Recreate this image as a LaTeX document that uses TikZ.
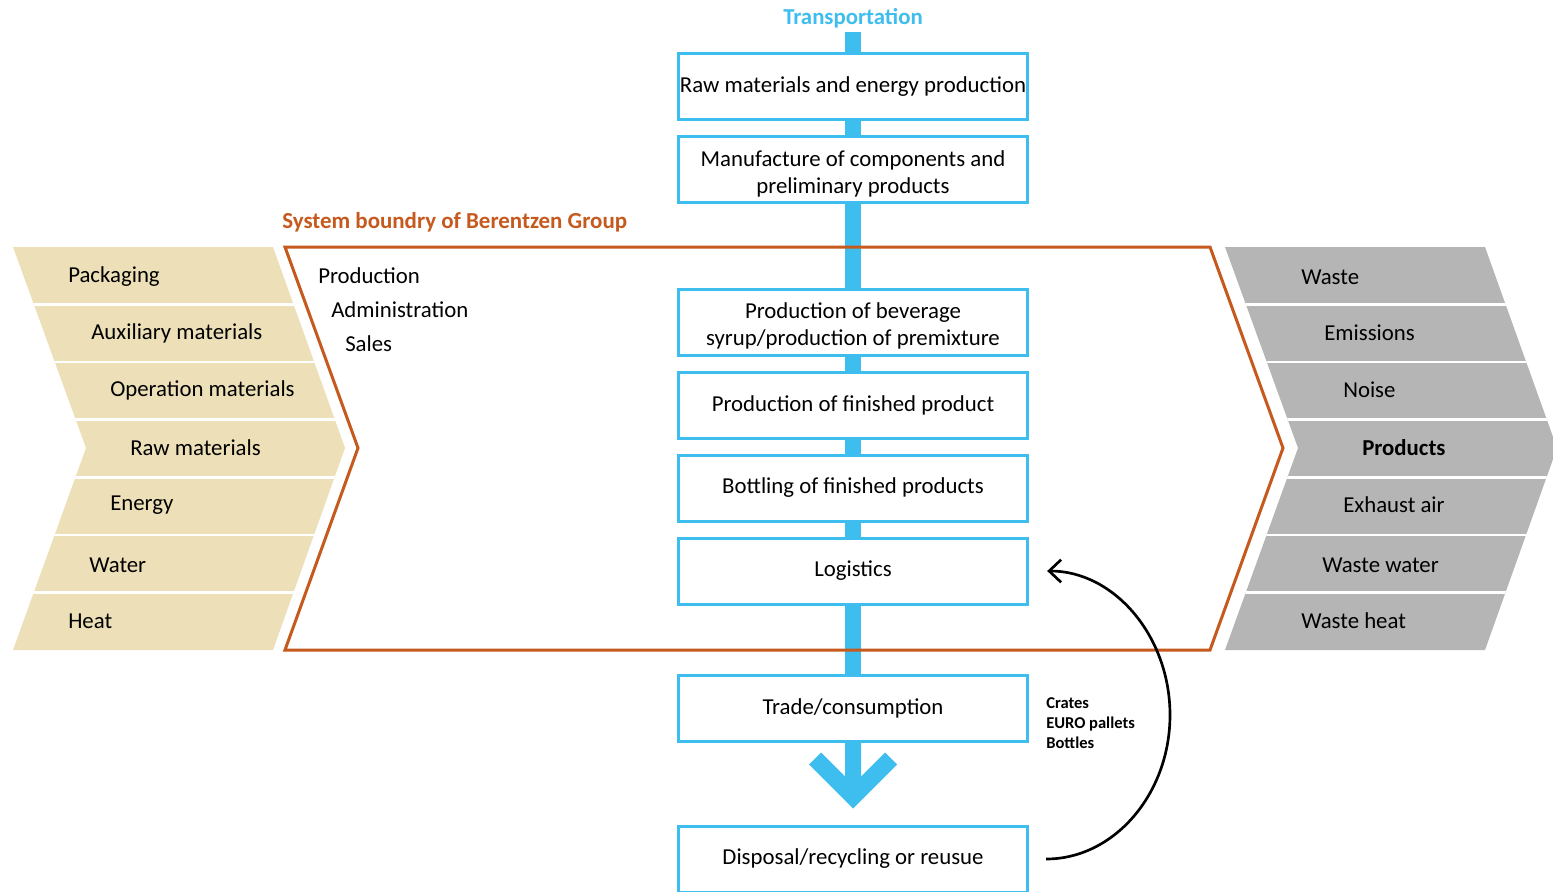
\documentclass[tikz,border=0pt]{standalone}
\usepackage{fontspec}
\setmainfont{Carlito}
\usetikzlibrary{arrows.meta,calc}
\definecolor{tblue}{RGB}{62,190,238}
\definecolor{torange}{RGB}{198,90,30}
\definecolor{tbeige}{RGB}{237,224,184}
\definecolor{tgray}{RGB}{180,181,180}
\newcommand{\upstrut}{\rule{0pt}{18pt}}
\begin{document}
\begin{tikzpicture}[x=0.75pt,y=-0.75pt,
  font=\fontsize{17.1}{20.3}\selectfont,
  box/.style={draw=tblue, line width=2.25pt, fill=white, minimum width=262pt,
    minimum height=49.5pt, align=center, inner xsep=0.5pt, text=black},
  bar/.style={draw=tblue, line width=12.5pt},
  lbl/.style={anchor=west, inner sep=0pt},
  bound/.style={draw=torange, line width=2.25pt, line join=miter},
  sep/.style={draw=white, line width=2pt},
  small/.style={font=\fontsize{12.4}{15}\selectfont\bfseries, align=left, anchor=west, inner sep=0pt}]
\clip (0,0) rectangle (1553,892);
\fill[white] (0,0) rectangle (1553,892);

% left chevron (inputs)
\fill[tbeige] (13,247) -- (273,247) -- (345,448) -- (273,650) -- (13,650) -- (86,448) -- cycle;
\begin{scope}
\clip (13,247) -- (273,247) -- (345,448) -- (273,650) -- (13,650) -- (86,448) -- cycle;
\foreach \k in {1,...,6} \draw[sep] (0,{247+57.57*\k}) -- (400,{247+57.57*\k});
\end{scope}
% right chevron (outputs)
\fill[tgray] (1225,247) -- (1485,247) -- (1557,448) -- (1485,650) -- (1225,650) -- (1298,448) -- cycle;
\begin{scope}
\clip (1225,247) -- (1485,247) -- (1557,448) -- (1485,650) -- (1225,650) -- (1298,448) -- cycle;
\foreach \k in {1,...,6} \draw[sep] (1200,{247+57.57*\k}) -- (1600,{247+57.57*\k});
\end{scope}

\node[lbl] (in1) at (68,277) {Packaging};
\node[lbl] (in2) at (91,333) {Auxiliary materials};
\node[lbl] (in3) at (110,390) {Operation materials};
\node[lbl] (in4) at (130,448) {Raw materials};
\node[lbl] (in5) at (110,505) {Energy};
\node[lbl] (in6) at (89,565) {Water};
\node[lbl] (in7) at (68,621) {Heat};

\node[lbl] (out1) at (1301,277) {Waste};
\node[lbl] (out2) at (1324,333) {Emissions};
\node[lbl] (out3) at (1343,390) {Noise};
\node[lbl, font=\fontsize{17.1}{20.3}\selectfont\bfseries] (out4) at (1362,448) {Products};
\node[lbl] (out5) at (1343,505) {Exhaust air};
\node[lbl] (out6) at (1322,565) {Waste water};
\node[lbl] (out7) at (1301,621) {Waste heat};

% process chain boxes
\node[box] (b1) at (853,86.5) {Raw materials and energy production};
\node[box] (b2) at (853,169.5) {\upstrut Manufacture of components and\\preliminary products};
\node[box] (b3) at (853,322) {\upstrut Production of beverage\\syrup/production of premixture};
\node[box] (b4) at (853,405.5) {Production of finished product};
\node[box] (b5) at (853,488) {Bottling of finished products};
\node[box] (b6) at (853,571) {Logistics};
\node[box] (b7) at (853,708) {Trade/consumption};
\node[box] (b8) at (853,859) {Disposal/recycling or reusue};

\node[font=\fontsize{17.1}{20}\selectfont\bfseries, text=tblue] (tr) at (853,18) {Transportation};
\coordinate (ttop) at (853,32);

% transport bar
\draw[bar] (ttop) -- (b1.north);
\draw[bar] (b1.south) -- (b2.north);
\draw[bar] (b2.south) -- (b3.north);
\draw[bar] (b3.south) -- (b4.north);
\draw[bar] (b4.south) -- (b5.north);
\draw[bar] (b5.south) -- (b6.north);
\draw[bar] (b6.south) -- (b7.north);
\fill[tblue] ($(b7.south)+(-8,-1)$) -- ++(0,35) -- ++(-24,-24) -- ++(-12,12) -- ++(44,44)
  -- ++(44,-44) -- ++(-12,-12) -- ++(-24,24) -- ++(0,-35) -- cycle;

% system boundary
\draw[bound] (285,247) -- (1210,247) -- (1283,448) -- (1210,650) -- (285,650) -- (358,448) -- cycle;
\node[lbl, text=torange, font=\fontsize{17.2}{20}\selectfont\bfseries] (sb) at (282,222) {System boundry of Berentzen Group};

\node[lbl] (p1) at (318,276) {Production};
\node[lbl] (p2) at (331,310) {Administration};
\node[lbl] (p3) at (345,344) {Sales};

% return loop
\node[small] (ret) at (1046,723) {Crates\\EURO pallets\\Bottles};
\coordinate (cs) at ($(b8.east)+(17,0)$);
\coordinate (ce) at ($(b6.east)+(18,0)$);
\draw[line width=2pt, -{Straight Barb[length=9pt,width=17pt,line width=2pt]}]
  (cs) .. controls (1114,859) and (1170,794) .. (1170,715)
       .. controls (1170,636) and (1114,571) .. (ce);
\end{tikzpicture}
\end{document}
